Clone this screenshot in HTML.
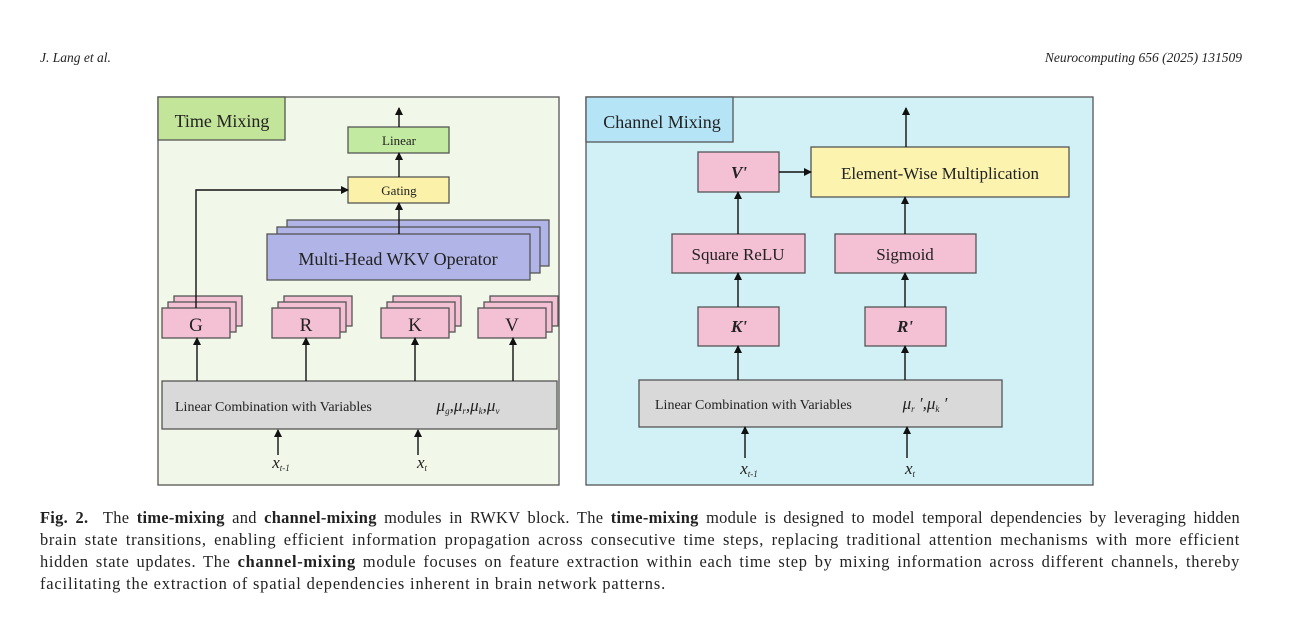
<!DOCTYPE html>
<html><head><meta charset="utf-8"><style>
body{margin:0;width:1300px;height:621px;background:#fff;position:relative;overflow:hidden;font-family:"Liberation Serif",serif}
.h{position:absolute;top:50px;font-style:italic;font-size:13.5px;color:#222}
.c{position:absolute;left:40px;width:1200px;font-size:16.4px;letter-spacing:0.7px;color:#222;line-height:22px;white-space:nowrap}
.j{text-align:justify;text-align-last:justify;white-space:normal;height:22px}
</style></head><body>
<div class="h" style="left:40px">J. Lang et al.</div>
<div class="h" style="right:58px">Neurocomputing 656 (2025) 131509</div>
<svg width="1300" height="621" style="position:absolute;left:0;top:0" font-family="Liberation Serif, serif">
<defs><marker id="a" markerWidth="8" markerHeight="8" refX="7" refY="4" orient="auto" markerUnits="userSpaceOnUse"><path d="M0,0 L8,4 L0,8z" fill="#111"/></marker></defs>
<g stroke="#555" stroke-width="1.3">
<rect x="158" y="97" width="401" height="388" fill="#f2f8e9"/>
<rect x="158" y="97" width="127" height="43" fill="#c3e59a"/>
<rect x="348" y="127" width="101" height="26" fill="#c2eaa0"/>
<rect x="348" y="177" width="101" height="26" fill="#fbf1a8"/>
<rect x="287" y="220" width="262" height="46" fill="#b0b4e6"/>
<rect x="277" y="227" width="263" height="46" fill="#b0b4e6"/>
<rect x="267" y="234" width="263" height="46" fill="#b0b4e6"/>
</g>
<g stroke="#555" stroke-width="1.3" fill="#f4c0d4">
<rect x="174" y="296" width="68" height="30"/><rect x="168" y="302" width="68" height="30"/><rect x="162" y="308" width="68" height="30"/>
<rect x="284" y="296" width="68" height="30"/><rect x="278" y="302" width="68" height="30"/><rect x="272" y="308" width="68" height="30"/>
<rect x="393" y="296" width="68" height="30"/><rect x="387" y="302" width="68" height="30"/><rect x="381" y="308" width="68" height="30"/>
<rect x="490" y="296" width="68" height="30"/><rect x="484" y="302" width="68" height="30"/><rect x="478" y="308" width="68" height="30"/>
</g>
<rect x="162" y="381" width="395" height="48" fill="#d9d9d9" stroke="#555" stroke-width="1.3"/>
<g stroke="#111" stroke-width="1.4" fill="none" marker-end="url(#a)">
<path d="M399 127 V108"/><path d="M399 177 V153"/><path d="M399 234 V203"/>
<path d="M196 308 V190 H348"/>
<path d="M197 381 V338"/><path d="M306 381 V338"/><path d="M415 381 V338"/><path d="M513 381 V338"/>
<path d="M278 455 V430"/><path d="M418 455 V430"/>
</g>
<g fill="#222" text-anchor="middle">
<text x="222" y="127" font-size="18">Time Mixing</text>
<text x="399" y="145" font-size="13">Linear</text>
<text x="399" y="195" font-size="13">Gating</text>
<text x="398" y="265" font-size="18">Multi-Head WKV Operator</text>
<text x="196" y="331" font-size="19">G</text><text x="306" y="331" font-size="19">R</text>
<text x="415" y="331" font-size="19">K</text><text x="512" y="331" font-size="19">V</text>
<text x="175" y="411" font-size="14" text-anchor="start">Linear Combination with Variables</text>
<text x="468" y="411" font-size="17" font-style="italic">μ<tspan font-size="9" dy="3">g</tspan><tspan dy="-3">,μ</tspan><tspan font-size="9" dy="3">r</tspan><tspan dy="-3">,μ</tspan><tspan font-size="9" dy="3">k</tspan><tspan dy="-3">,μ</tspan><tspan font-size="9" dy="3">v</tspan></text>
<text x="281" y="468" font-size="17" font-style="italic">x<tspan font-size="9" dy="3">t-1</tspan></text>
<text x="422" y="468" font-size="17" font-style="italic">x<tspan font-size="9" dy="3">t</tspan></text>
</g>
<g stroke="#555" stroke-width="1.3">
<rect x="586" y="97" width="507" height="388" fill="#d2f1f6"/>
<rect x="586" y="97" width="147" height="45" fill="#b4e4f5"/>
<rect x="811" y="147" width="258" height="50" fill="#fbf3ae"/>
<g fill="#f4c0d4">
<rect x="698" y="152" width="81" height="40"/>
<rect x="672" y="234" width="133" height="39"/>
<rect x="835" y="234" width="141" height="39"/>
<rect x="698" y="307" width="81" height="39"/>
<rect x="865" y="307" width="81" height="39"/>
</g>
<rect x="639" y="380" width="363" height="47" fill="#d9d9d9"/>
</g>
<g stroke="#111" stroke-width="1.4" fill="none" marker-end="url(#a)">
<path d="M906 147 V108"/><path d="M779 172 H811"/>
<path d="M738 234 V192"/><path d="M905 234 V197"/>
<path d="M738 307 V273"/><path d="M905 307 V273"/>
<path d="M738 380 V346"/><path d="M905 380 V346"/>
<path d="M745 458 V427"/><path d="M907 458 V427"/>
</g>
<g fill="#222" text-anchor="middle">
<text x="662" y="128" font-size="18">Channel Mixing</text>
<text x="940" y="179" font-size="17">Element-Wise Multiplication</text>
<text x="739" y="178" font-size="17" font-style="italic" font-weight="bold">V'</text>
<text x="738" y="260" font-size="17">Square ReLU</text>
<text x="905" y="260" font-size="17">Sigmoid</text>
<text x="739" y="332" font-size="17" font-style="italic" font-weight="bold">K'</text>
<text x="905" y="332" font-size="17" font-style="italic" font-weight="bold">R'</text>
<text x="655" y="409" font-size="14" text-anchor="start">Linear Combination with Variables</text>
<text x="925" y="409" font-size="17" font-style="italic">μ<tspan font-size="9" dy="3">r</tspan><tspan dy="-3"> ′,μ</tspan><tspan font-size="9" dy="3">k</tspan><tspan dy="-3"> ′</tspan></text>
<text x="749" y="474" font-size="17" font-style="italic">x<tspan font-size="9" dy="3">t-1</tspan></text>
<text x="910" y="474" font-size="17" font-style="italic">x<tspan font-size="9" dy="3">t</tspan></text>
</g>
</svg>
<div class="c j" style="top:507px;letter-spacing:0.3px"><b>Fig. 2.</b>&nbsp; The <b>time-mixing</b> and <b>channel-mixing</b> modules in RWKV block. The <b>time-mixing</b> module is designed to model temporal dependencies by leveraging hidden</div>
<div class="c j" style="top:529px">brain state transitions, enabling efficient information propagation across consecutive time steps, replacing traditional attention mechanisms with more efficient</div>
<div class="c j" style="top:551px">hidden state updates. The <b>channel-mixing</b> module focuses on feature extraction within each time step by mixing information across different channels, thereby</div>
<div class="c" style="top:573px;letter-spacing:0.85px">facilitating the extraction of spatial dependencies inherent in brain network patterns.</div>
</body></html>
